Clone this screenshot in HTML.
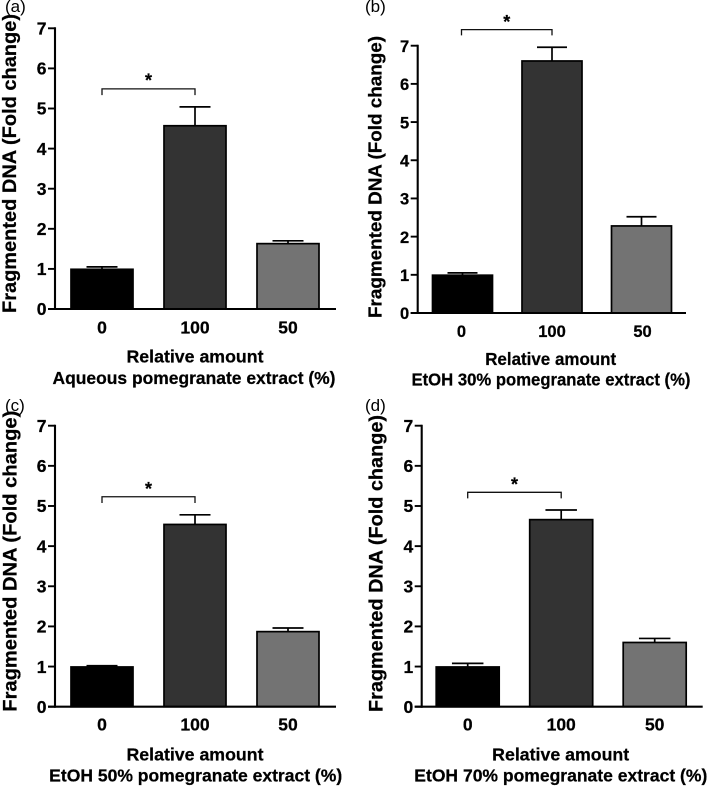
<!DOCTYPE html>
<html lang="en">
<head>
<meta charset="utf-8">
<title>Fragmented DNA fold change by pomegranate extract</title>
<style>
html,body{margin:0;padding:0;background:#fff;}
#figure{display:block;width:709px;height:786px;filter:blur(0.35px);}
text{font-family:"Liberation Sans",sans-serif;fill:#000;}
.bold{font-weight:bold;stroke:#000;stroke-width:0.25px;}
</style>
</head>
<body>
<svg id="figure" xmlns="http://www.w3.org/2000/svg" width="709" height="786" viewBox="0 0 709 786"></svg>
<script>
const categories = ['0', '100', '50'];
const yTicks = [0, 1, 2, 3, 4, 5, 6, 7];
const yDomainMax = 7;
const yAxisTitle = 'Fragmented DNA (Fold change)';
const xAxisTitle = 'Relative amount';

const valuesA = [0.99, 4.57, 1.63];
const valuesB = [0.99, 6.6, 2.28];
const valuesC = [0.99, 4.54, 1.87];
const valuesD = [0.99, 4.66, 1.6];

const errorTopsA = [1.05, 5.04, 1.7];
const errorTopsB = [1.05, 6.96, 2.52];
const errorTopsC = [1.02, 4.78, 1.96];
const errorTopsD = [1.08, 4.9, 1.7];

const bracketLevelA = 5.49;
const bracketLevelB = 7.42;
const bracketLevelC = 5.23;
const bracketLevelD = 5.34;

const barFills = ['#000000', '#333333', '#737373'];

const panels = [
  {id:'a', label:'(a)', values:valuesA, tops:errorTopsA, level:bracketLevelA, sub:'Aqueous pomegranate extract (%)',
   layout:{axisX:55, y0:309, y7:28.3, right:336, first:102, step:93, bw:62, tickFs:17.5, tickB:333.5, t1x:195, t1y:362.7, t1w:137, t2x:194, t2y:384, t2w:283, yx:16, yy:313, yw:299, yfs:19.5, lx:5, ly:12, drop:6.3, starY:76.5}},
  {id:'b', label:'(b)', values:valuesB, tops:errorTopsB, level:bracketLevelB, sub:'EtOH 30% pomegranate extract (%)',
   layout:{axisX:417.7, y0:313, y7:45.7, right:686, first:461.5, step:90.5, bw:60, barShift:[1,0,-1], tickFs:16.5, tickB:337, t1x:550.7, t1y:365, t1w:131, t2x:551, t2y:385.7, t2w:279, yx:381.7, yy:318, yw:282, yfs:18.5, lx:365, ly:12, drop:5.7, starY:18}},
  {id:'c', label:'(c)', values:valuesC, tops:errorTopsC, level:bracketLevelC, sub:'EtOH 50% pomegranate extract (%)',
   layout:{axisX:55, y0:706.7, y7:425.7, right:336, first:102, step:93, bw:62, tickFs:17.5, tickB:730.5, t1x:195, t1y:760.7, t1w:137, t2x:195.7, t2y:781.7, t2w:293, yx:16.7, yy:711.7, yw:301, yfs:19.5, lx:5, ly:411, drop:6.3, starY:485}},
  {id:'d', label:'(d)', values:valuesD, tops:errorTopsD, level:bracketLevelD, sub:'EtOH 70% pomegranate extract (%)',
   layout:{axisX:421.7, y0:706.7, y7:425.7, right:702.7, first:467.7, step:93.5, bw:63, tickFs:17.5, tickB:730.5, t1x:560.7, t1y:760.7, t1w:137, t2x:560.8, t2y:781.7, t2w:293, yx:382.3, yy:712, yw:297, yfs:19.5, lx:365, ly:411, drop:6, starY:480.7}}
];

const svgNS = 'http://www.w3.org/2000/svg';
const root = document.getElementById('figure');

function make(parent, tag, props, content) {
  const el = document.createElementNS(svgNS, tag);
  for (const k in props) el.setAttribute(k, props[k]);
  if (content !== undefined) el.textContent = content;
  parent.appendChild(el);
  return el;
}

panels.forEach(function (p) {
  const L = p.layout;
  const yScale = function (v) { return L.y0 - (v / yDomainMax) * (L.y0 - L.y7); };
  const xScale = function (i) { return L.first + i * L.step; };
  const barCenter = function (i) { return xScale(i) + (L.barShift ? L.barShift[i] : 0); };

  const g = make(root, 'g', {});
  
  

  p.values.forEach(function (v, i) {
    const cx = barCenter(i);
    const top = yScale(v);
    const errY = yScale(p.tops[i]);
    const cap = L.bw / 2;

    const stem = make(g, 'line', {x1: cx, x2: cx, y1: top, y2: errY, stroke: '#000', 'stroke-width': 1.7});
    
    

    const capLine = make(g, 'line', {x1: cx - cap / 2, x2: cx + cap / 2, y1: errY, y2: errY, stroke: '#000', 'stroke-width': 1.7});
    
    

    const bar = make(g, 'rect', {x: cx - L.bw / 2, y: top, width: L.bw, height: L.y0 - top, fill: barFills[i], stroke: '#000', 'stroke-width': 1.7});
    
    

    const tickLabel = make(g, 'text', {x: xScale(i), y: L.tickB, 'text-anchor': 'middle', 'font-size': L.tickFs, class: 'bold'}, categories[i]);
    
    
  });

  const yAxis = make(g, 'line', {x1: L.axisX, x2: L.axisX, y1: L.y7 - 1, y2: L.y0 + 1, stroke: '#000', 'stroke-width': 2.1});
  
  

  const xAxis = make(g, 'line', {x1: L.axisX - 7, x2: L.right, y1: L.y0, y2: L.y0, stroke: '#000', 'stroke-width': 2.1});
  
  

  yTicks.forEach(function (t) {
    const tick = make(g, 'line', {x1: L.axisX - 7, x2: L.axisX, y1: yScale(t), y2: yScale(t), stroke: '#000', 'stroke-width': 1.9});
    
    

    const tickText = make(g, 'text', {x: L.axisX - 8.5, y: yScale(t) + 6.2, 'text-anchor': 'end', 'font-size': L.tickFs, class: 'bold'}, String(t));
    
    
  });

  const bx0 = xScale(0);
  const bx1 = xScale(1);
  const by = yScale(p.level);
  const bracket = make(g, 'polyline', {points: [bx0, by + L.drop, bx0, by, bx1, by, bx1, by + L.drop].join(' '), fill: 'none', stroke: '#111', 'stroke-width': 1.3});
  
  

  const star = make(g, 'text', {x: (bx0 + bx1) / 2, y: L.starY + 10, 'text-anchor': 'middle', 'font-size': 18, class: 'bold'}, '*');
  
  

  const title1 = make(g, 'text', {x: L.t1x, y: L.t1y, 'text-anchor': 'middle', 'font-size': 17.5, class: 'bold', textLength: L.t1w, lengthAdjust: 'spacingAndGlyphs'}, xAxisTitle);
  
  

  const title2 = make(g, 'text', {x: L.t2x, y: L.t2y, 'text-anchor': 'middle', 'font-size': 17.5, class: 'bold', textLength: L.t2w, lengthAdjust: 'spacingAndGlyphs'}, p.sub);
  
  

  const yTitle = make(g, 'text', {x: L.yx, y: L.yy, transform: 'rotate(-90 ' + L.yx + ' ' + L.yy + ')', 'font-size': L.yfs, class: 'bold', textLength: L.yw, lengthAdjust: 'spacingAndGlyphs'}, yAxisTitle);
  
  

  const label = make(g, 'text', {x: L.lx, y: L.ly, 'font-size': 17}, p.label);
  
  
});
</script>
</body>
</html>
